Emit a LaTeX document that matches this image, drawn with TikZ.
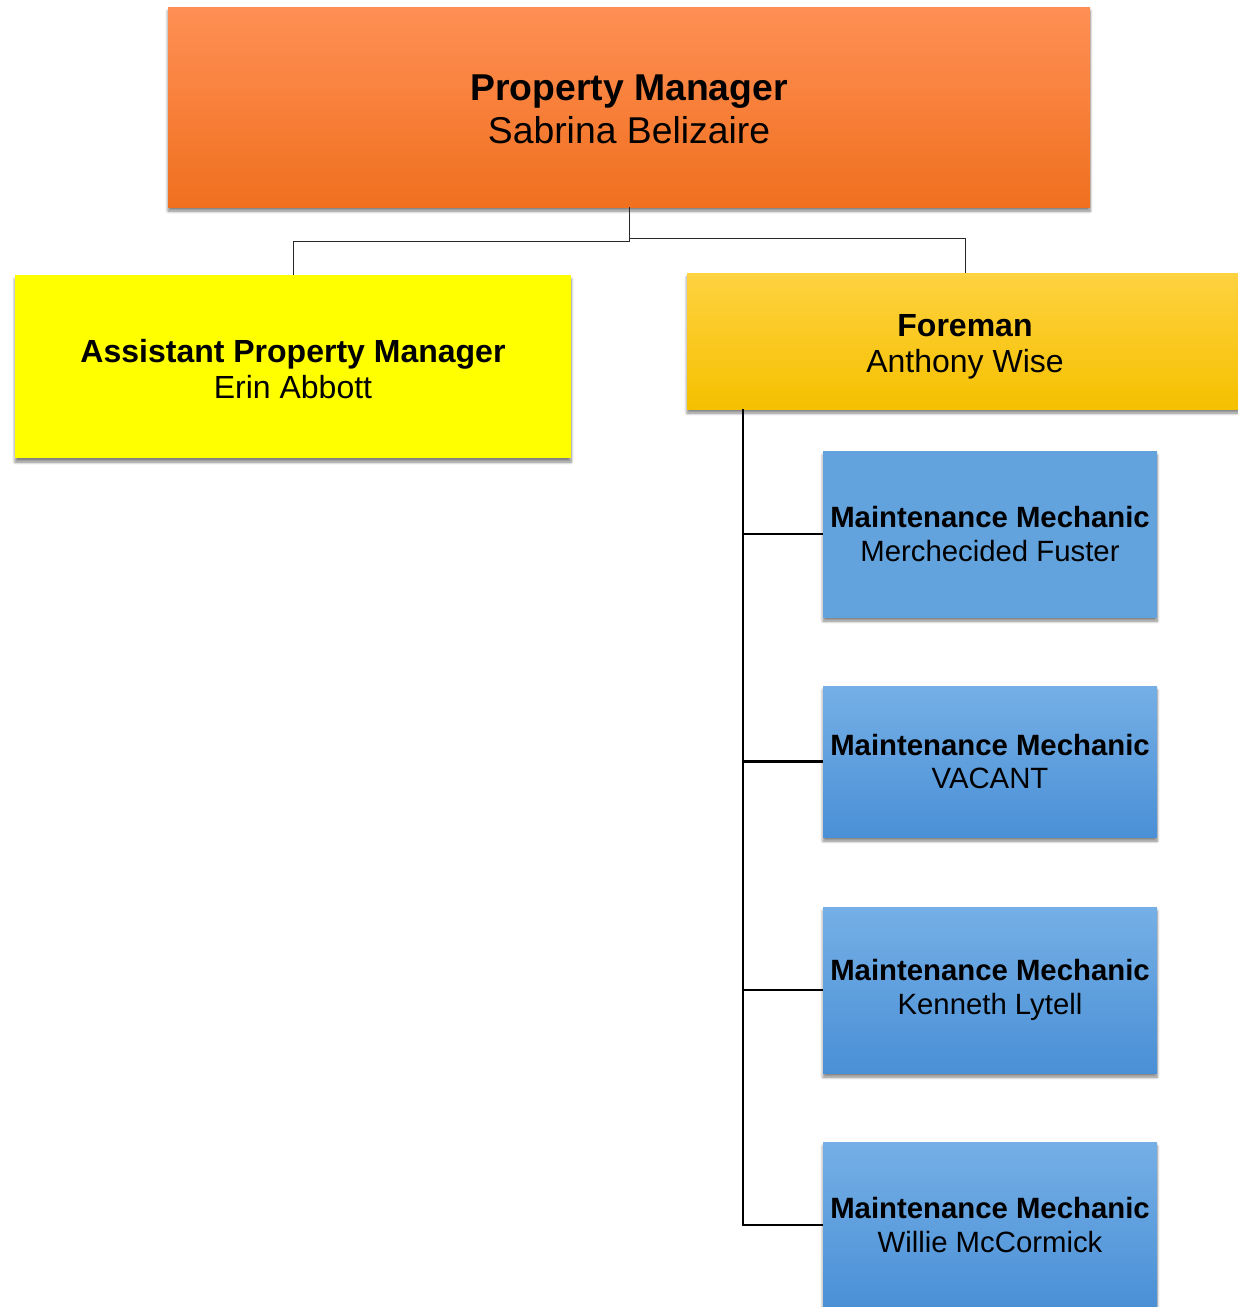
\documentclass[tikz,border=0pt]{standalone}
\usepackage{fontspec}
\setmainfont{Liberation Sans}
\usetikzlibrary{positioning}
\usetikzlibrary{shadows.blur}

\definecolor{pmTop}{RGB}{255,143,85}
\definecolor{pmBot}{RGB}{240,112,30}
\definecolor{apmFill}{RGB}{255,255,0}
\definecolor{fmTop}{RGB}{255,210,64}
\definecolor{fmBot}{RGB}{245,192,0}
\definecolor{mmFlat}{RGB}{98,163,222}
\definecolor{mmTop}{RGB}{117,175,230}
\definecolor{mmBot}{RGB}{74,144,214}
\definecolor{linkGray}{RGB}{40,40,40}

% raises the first line so the text sits a little lower in its box
\newcommand{\liftline}[1]{\rule{0pt}{#1}}

\tikzset{
  box/.style={draw=none, inner sep=0pt, align=center,
    blur shadow={shadow xshift=0pt, shadow yshift=-3pt, shadow blur steps=6, shadow opacity=50}},
  pmbox/.style={box, top color=pmTop, bottom color=pmBot,
    minimum width=691.5pt, minimum height=150pt, font=\fontsize{28}{32}\selectfont},
  apmbox/.style={box, fill=apmFill,
    minimum width=417pt, minimum height=137.25pt, font=\fontsize{24}{27}\selectfont},
  fmbox/.style={box, top color=fmTop, bottom color=fmBot,
    minimum width=417pt, minimum height=102pt, font=\fontsize{24}{27}\selectfont},
  mmbox/.style={box, top color=mmTop, bottom color=mmBot,
    minimum width=250.5pt, minimum height=124.5pt, font=\fontsize{22}{25}\selectfont},
  link/.style={draw=linkGray, line width=0.75pt},
  trunk/.style={draw=black, line width=2pt}
}

\begin{document}
\begin{tikzpicture}[x=0.75pt,y=0.75pt,yscale=-1,xscale=1]
\useasboundingbox (0,0) rectangle (1238,1307);

% Text Node
\node [pmbox] (pm) at (629,107) {\liftline{23pt}\textbf{Property Manager}\\Sabrina Belizaire};
% Text Node
\node [apmbox] (apm) at (293,366.5) {\liftline{21.7pt}\textbf{Assistant Property Manager}\\Erin Abbott};
% Text Node
\node [fmbox] (fm) at (965,341) {\liftline{24.7pt}\textbf{Foreman}\\Anthony Wise};
% Text Node
\node [mmbox, top color=mmFlat, bottom color=mmFlat] (mm1) at (990,534) {\textbf{Maintenance Mechanic}\\Merchecided Fuster};
% Text Node
\node [mmbox, minimum height=113.25pt] (mm2) at (990,761.5) {\textbf{Maintenance Mechanic}\\VACANT};
% Text Node
\node [mmbox] (mm3) at (990,990) {\textbf{Maintenance Mechanic}\\Kenneth Lytell};
% Text Node
\node [mmbox] (mm4) at (990,1225) {\textbf{Maintenance Mechanic}\\Willie McCormick};

% Connection
\draw [link] (pm.south) -- ++(0,34) -| (apm.north);
% Connection
\draw [link] (pm.south) ++(0,31) -| (fm.north);

% Connection
\coordinate (spine) at (743,0);
\draw [trunk] (spine |- fm.south) |- (mm4.west);
\foreach \n in {1,2,3}
  \draw [trunk] (spine |- mm\n.west) -- (mm\n.west);

\end{tikzpicture}
\end{document}
